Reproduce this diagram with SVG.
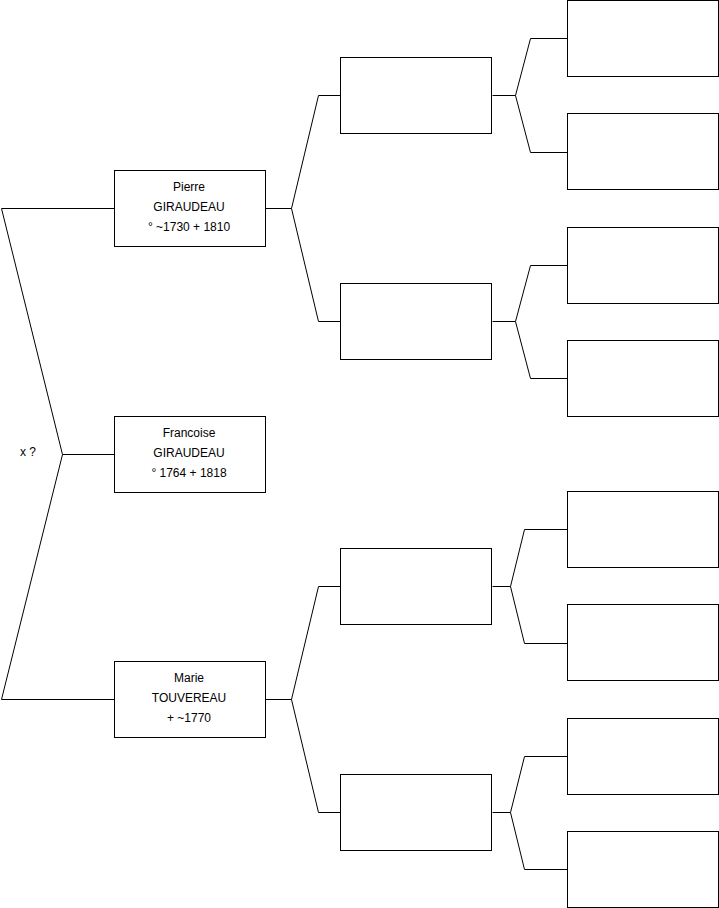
<svg xmlns="http://www.w3.org/2000/svg" width="719" height="908" viewBox="0 0 719 908">
<style>
rect.b{fill:#fff;stroke:#000;stroke-width:1}
.c{fill:none;stroke:#000;stroke-width:1}
text{font-family:"Liberation Sans",Arial,sans-serif;font-size:12px;fill:#000;text-anchor:middle}
</style>
<rect width="719" height="908" fill="#fff"/>
<g id="connectors">
<path class="c" d="M114.5,208.5 H1.5 L62.5,454.5 L1.5,699.5 H114.5 M62.5,454.5 H114.5"/>
<path class="c" d="M265.5,208.5 H291.5 M318.5,95.5 L291.5,208.5 L318.5,321.5 M318.5,95.5 H340.5 M318.5,321.5 H340.5"/>
<path class="c" d="M265.5,699.5 H291.5 M318.5,586.5 L291.5,699.5 L318.5,812.5 M318.5,586.5 H340.5 M318.5,812.5 H340.5"/>
<path class="c" d="M492.5,95.5 H515.5 M530.5,38.5 L515.5,95.5 L530.5,152.5 M530.5,38.5 H567.5 M530.5,152.5 H567.5"/>
<path class="c" d="M492.5,321.5 H515.5 M530.5,265.5 L515.5,321.5 L530.5,378.5 M530.5,265.5 H567.5 M530.5,378.5 H567.5"/>
<path class="c" d="M492.5,586.5 H510.5 M524.5,529.5 L510.5,586.5 L524.5,643.5 M524.5,529.5 H567.5 M524.5,643.5 H567.5"/>
<path class="c" d="M492.5,812.5 H510.5 M524.5,756.5 L510.5,812.5 L524.5,869.5 M524.5,756.5 H567.5 M524.5,869.5 H567.5"/>
</g>
<text id="union" x="28" y="456">x ?</text>
<g id="pierre"><rect class="b" x="114.5" y="170.5" width="151" height="76"/><text x="189" y="191">Pierre</text><text x="189" y="211">GIRAUDEAU</text><text x="189" y="231">° ~1730 + 1810</text></g>
<g id="francoise"><rect class="b" x="114.5" y="416.5" width="151" height="76"/><text x="189" y="437">Francoise</text><text x="189" y="457">GIRAUDEAU</text><text x="189" y="477">° 1764 + 1818</text></g>
<g id="marie"><rect class="b" x="114.5" y="661.5" width="151" height="76"/><text x="189" y="682">Marie</text><text x="189" y="702">TOUVEREAU</text><text x="189" y="722">+ ~1770</text></g>
<g id="g2a"><rect class="b" x="340.5" y="57.5" width="151" height="76"/></g>
<g id="g2b"><rect class="b" x="340.5" y="283.5" width="151" height="76"/></g>
<g id="g2c"><rect class="b" x="340.5" y="548.5" width="151" height="76"/></g>
<g id="g2d"><rect class="b" x="340.5" y="774.5" width="151" height="76"/></g>
<g id="g3a"><rect class="b" x="567.5" y="0.5" width="151" height="76"/></g>
<g id="g3b"><rect class="b" x="567.5" y="113.5" width="151" height="76"/></g>
<g id="g3c"><rect class="b" x="567.5" y="227.5" width="151" height="76"/></g>
<g id="g3d"><rect class="b" x="567.5" y="340.5" width="151" height="76"/></g>
<g id="g3e"><rect class="b" x="567.5" y="491.5" width="151" height="76"/></g>
<g id="g3f"><rect class="b" x="567.5" y="604.5" width="151" height="76"/></g>
<g id="g3g"><rect class="b" x="567.5" y="718.5" width="151" height="76"/></g>
<g id="g3h"><rect class="b" x="567.5" y="831.5" width="151" height="76"/></g>
</svg>
